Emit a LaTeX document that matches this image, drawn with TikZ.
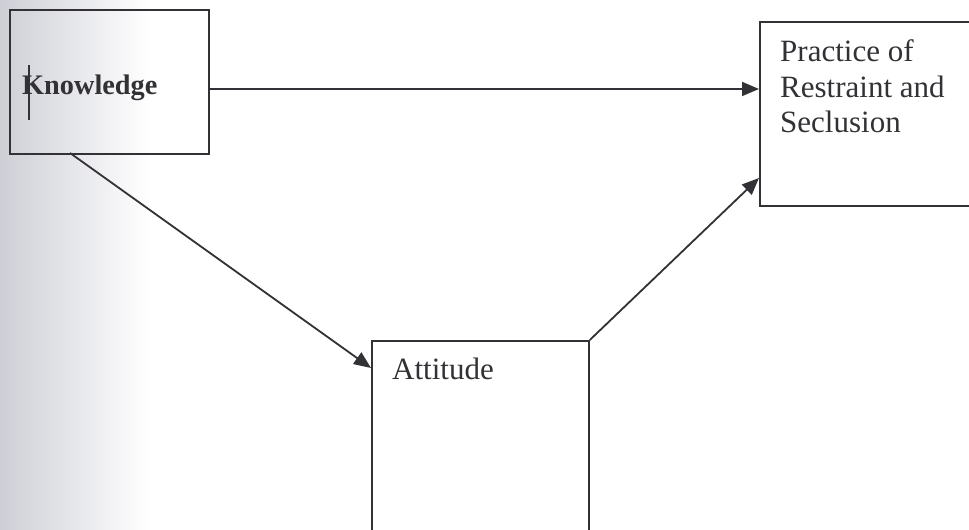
\documentclass[tikz,border=0pt]{standalone}
\usepackage{fontspec}
\setmainfont{Liberation Serif}
\usetikzlibrary{arrows.meta}
\definecolor{ink}{RGB}{50,50,54}
\definecolor{scan}{RGB}{206,207,214}
\tikzset{
  box/.style={draw=ink, line width=1.8pt, rectangle, inner sep=0pt},
  lbl/.style={text=ink, inner sep=0pt, anchor=base west, font=\fontsize{31}{36}\selectfont},
  klbl/.style={text=ink, inner sep=0pt, anchor=base west, font=\fontsize{28.3}{32}\selectfont\bfseries},
  arr/.style={draw=ink, line width=1.8pt, -{Triangle[length=17pt,width=14pt]}}
}
\begin{document}
\begin{tikzpicture}[x=1pt,y=1pt]
\useasboundingbox (0,0) rectangle (969,530);
\clip (0,0) rectangle (969,530);
\fill[white] (0,0) rectangle (969,530);
\shade[left color=scan, right color=white] (0,0) rectangle (150,530);
% boxes
\node[box, minimum width=199pt, minimum height=144pt, anchor=north west] (K) at (9,521) {};
\node[box, minimum width=230pt, minimum height=184pt, anchor=north west] (P) at (759,509) {};
\node[box, minimum width=217pt, minimum height=210pt, anchor=north west] (A) at (371,190) {};
% texts
\node[klbl] (kt) at (22,435) {Knowledge};
\node[lbl] (p1) at (780,468) {Practice of};
\node[lbl] (p2) at (780,432) {Restraint and};
\node[lbl] (p3) at (780,397) {Seclusion};
\node[lbl] (at) at (392,150) {Attitude};
% cursor mark
\coordinate (c1) at (29,465);
\coordinate (c2) at (29,410);
\draw[ink, line width=1.4pt] (c1) -- (c2);
% connectors
\coordinate (k1) at (208,441);
\draw[arr] (k1) -- (k1 -| P.west);
\coordinate (k2) at (70,377);
\coordinate (a1) at (371,162);
\draw[arr] (k2) -- (a1);
\coordinate (p4) at (759,352);
\draw[arr] (A.north east) -- (p4);
\end{tikzpicture}
\end{document}
